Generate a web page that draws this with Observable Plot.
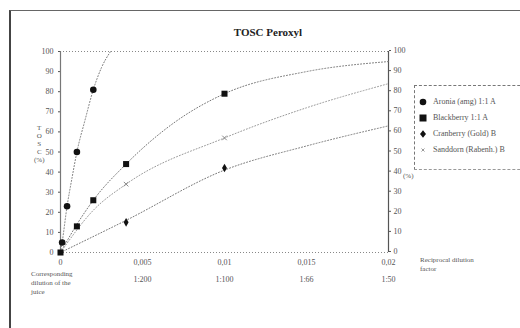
<!DOCTYPE html>
<html>
<head>
<meta charset="utf-8">
<script src="https://cdn.jsdelivr.net/npm/d3@7"></script>
<script src="https://cdn.jsdelivr.net/npm/@observablehq/plot@0.6"></script>
<style>
  html, body { margin: 0; padding: 0; background: #fff; }
  #wrap { position: relative; width: 520px; height: 328px; overflow: hidden; font-family: "Liberation Serif", serif; color: #555; }
  #frame { position: absolute; left: 9px; top: 10px; width: 530px; height: 330px; border-top: 1.5px solid #666; border-left: 2px solid #444; }
  #plot { position: absolute; left: 0; top: 0; }
  .t { position: absolute; white-space: nowrap; }
  #title { left: 200px; width: 136px; top: 26px; text-align: center; font-weight: bold; font-size: 11px; color: #222; }
  #legend { position: absolute; left: 414px; top: 85px; width: 120px; height: 83px; border-top: 1px dashed #777; border-left: 1px dashed #777; border-bottom: 1px dashed #999; }
  .li { position: absolute; left: 0; height: 12px; font-size: 8px; line-height: 12px; white-space: nowrap; color: #555; }
  .li svg { position: absolute; left: 2px; top: 0; }
  .li span { position: absolute; left: 18px; top: 0; }
</style>
</head>
<body>
<div id="wrap">
  <div id="frame"></div>
  <div id="plot"></div>
  <div class="t" id="title">TOSC Peroxyl</div>
  <div class="t" style="left:34px; top:124px; font-size:7px; line-height:8px; text-align:center;">T<br>O<br>S<br>C<br>(%)</div>
  <div class="t" style="left:403px; top:172px; font-size:7px;">(%)</div>
  <div class="t" style="left:420px; top:256px; font-size:7px; line-height:9px;">Reciprocal dilution<br>factor</div>
  <div class="t" style="left:31px; top:270px; font-size:7px; line-height:9px;">Corresponding<br>dilution of the<br>juice</div>
  <div id="legend"></div>
</div>
<script>
// ---- data ----
const seriesNames = ["Aronia (amg) 1:1 A", "Blackberry 1:1 A", "Cranberry (Gold) B", "Sanddorn (Rabenh.) B"];

// measured points (reciprocal dilution factor, TOSC %)
const aroniaX = [0.0001, 0.0004, 0.001, 0.002];
const aroniaY = [5, 23, 50, 81];
const blackberryX = [0, 0.001, 0.002, 0.004, 0.01];
const blackberryY = [0, 13, 26, 44, 79];
const cranberryX = [0.004, 0.01];
const cranberryY = [15, 42];
const sanddornX = [0.004, 0.01];
const sanddornY = [34, 57];

// fitted curves
const aroniaFitX = [0, 0.0001, 0.0004, 0.0007, 0.001, 0.0015, 0.002, 0.0025, 0.00305];
const aroniaFitY = [0, 5, 23, 37, 50, 66, 81, 92, 100];
const blackberryFitX = [0, 0.001, 0.002, 0.004, 0.007, 0.01, 0.015, 0.02];
const blackberryFitY = [0, 14, 26, 44, 65, 79, 90, 95];
const cranberryFitX = [0, 0.004, 0.01, 0.015, 0.02];
const cranberryFitY = [0, 16, 41, 53, 63];
const sanddornFitX = [0, 0.002, 0.004, 0.01, 0.015, 0.02];
const sanddornFitY = [0, 21, 34, 57, 72, 84];

// axes
const xTicks = [0, 0.005, 0.01, 0.015, 0.02];
const xTickLabels = ["0", "0,005", "0,01", "0,015", "0,02"];
const dilutionX = [0.005, 0.01, 0.015, 0.02];
const dilutionLabels = ["1:200", "1:100", "1:66", "1:50"];
const yTicks = [0, 10, 20, 30, 40, 50, 60, 70, 80, 90, 100];

// ---- build tables ----
const zip = (xs, ys) => xs.map((x, i) => ({x, y: ys[i]}));
const fits = [
  zip(aroniaFitX, aroniaFitY),
  zip(blackberryFitX, blackberryFitY),
  zip(cranberryFitX, cranberryFitY),
  zip(sanddornFitX, sanddornFitY)
];
const pts = [
  zip(aroniaX, aroniaY),
  zip(blackberryX, blackberryY),
  zip(cranberryX, cranberryY),
  zip(sanddornX, sanddornY)
];
const dil = dilutionX.map((x, i) => ({x, label: dilutionLabels[i]}));
const fmtX = d => xTickLabels[xTicks.findIndex(t => Math.abs(t - d) < 1e-9)] ?? String(d);

const lineStyle = {x: "x", y: "y", curve: "monotone-x", stroke: "#777", strokeWidth: 1, strokeDasharray: "1,2"};

const chart = Plot.plot({
  width: 520,
  height: 328,
  marginLeft: 60,
  marginRight: 132,
  marginTop: 51,
  marginBottom: 76,
  style: {fontFamily: "Liberation Serif, serif", fontSize: "8px", color: "#555", background: "transparent"},
  x: {domain: [0, 0.02]},
  y: {domain: [0, 100]},
  marks: [
    Plot.ruleY([100], {stroke: "#888", strokeDasharray: "1,2"}),
    Plot.ruleY([0], {stroke: "#888", strokeDasharray: "1,2"}),
    Plot.ruleX([0], {stroke: "#777", strokeWidth: 1.2}),
    Plot.ruleX([0.02], {stroke: "#555", strokeWidth: 1.2}),
    Plot.axisY({ticks: yTicks, anchor: "left", tickSize: 2, tickPadding: 5, label: null}),
    Plot.axisY({ticks: yTicks, anchor: "right", tickSize: 2, tickPadding: 3, label: null, dy: -1}),
    Plot.axisX({ticks: xTicks, tickFormat: fmtX, tickSize: 0, tickPadding: 7, label: null}),
    Plot.text(dil, {x: "x", text: "label", frameAnchor: "bottom", dy: 29, fill: "#555"}),
    Plot.line(fits[0], lineStyle),
    Plot.line(fits[1], lineStyle),
    Plot.line(fits[2], lineStyle),
    Plot.line(fits[3], {...lineStyle, stroke: "#999"}),
    Plot.dot(pts[0], {x: "x", y: "y", r: 3.3, fill: "#111", symbol: "circle"}),
    Plot.dot(pts[1], {x: "x", y: "y", r: 3.4, fill: "#111", symbol: "square"}),
    Plot.dot(pts[2], {x: "x", y: "y", r: 2.6, fill: "#111", symbol: "diamond"}),
    Plot.dot(pts[3], {x: "x", y: "y", r: 2.2, stroke: "#888", strokeWidth: 1, symbol: "times"})
  ]
});
document.getElementById("plot").appendChild(chart);

// ---- legend ----
const legend = document.getElementById("legend");
const symbolsSvg = [
  '<svg width="12" height="12"><circle cx="6" cy="6" r="3.3" fill="#111"/></svg>',
  '<svg width="12" height="12"><rect x="2.5" y="2.5" width="7" height="7" fill="#111"/></svg>',
  '<svg width="12" height="12"><path d="M6 2.2L9 6L6 9.8L3 6Z" fill="#111"/></svg>',
  '<svg width="12" height="12"><path d="M4.5 4.5L7.5 7.5M7.5 4.5L4.5 7.5" stroke="#999" stroke-width="1"/></svg>'
];
const legendTops = [10, 26, 42, 58];
seriesNames.forEach((name, i) => {
  const d = document.createElement("div");
  d.className = "li";
  d.style.top = legendTops[i] + "px";
  d.innerHTML = symbolsSvg[i] + "<span>" + name + "</span>";
  legend.appendChild(d);
});
</script>
</body>
</html>
